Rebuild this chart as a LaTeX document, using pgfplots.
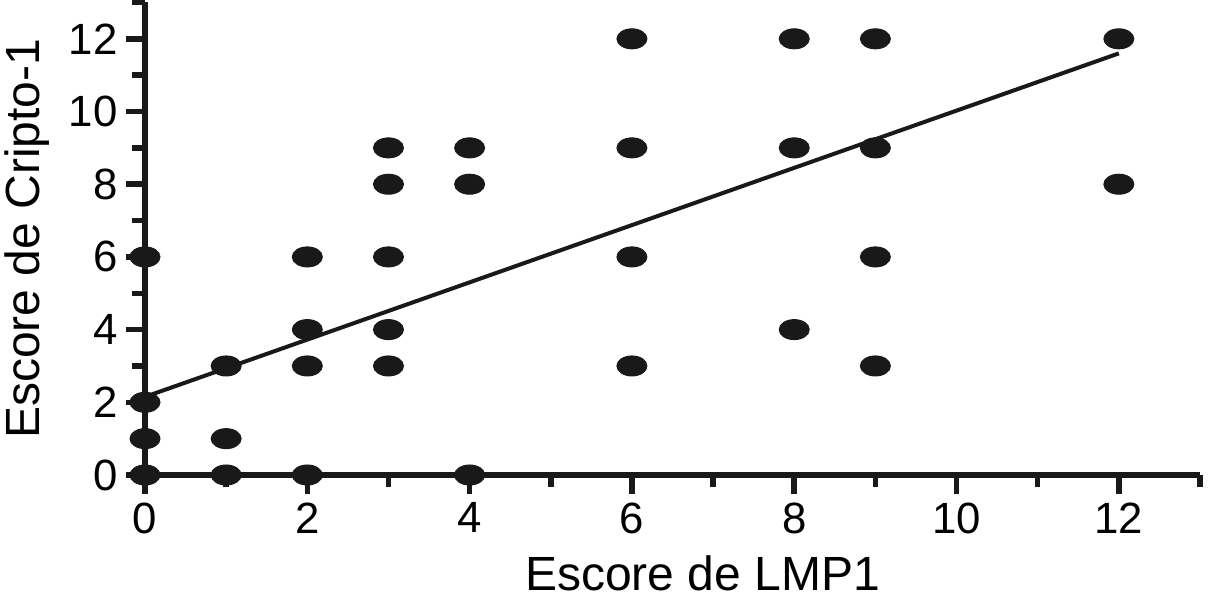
\documentclass[border=0pt]{standalone}
\usepackage{fontspec}
\setmainfont{Liberation Sans}
\usepackage{pgfplots}
\pgfplotsset{compat=1.18}
\begin{document}
\begin{tikzpicture}
\begin{axis}[
  scale only axis,
  width=422pt, height=189pt,
  xmin=0, xmax=13, ymin=0, ymax=13,
  axis lines=left,
  axis line style={-, line width=2.2pt, black!90},
  xtick={0,2,...,12}, ytick={0,2,...,12},
  minor xtick={1,3,...,13}, minor ytick={1,3,...,13},
  tick align=outside,
  major tick length=7.5pt, minor tick length=5pt,
  every tick/.style={line width=2.2pt, black!90},
  tick label style={font=\fontsize{17.5}{20}\selectfont},
  /pgf/number format/assume math mode=true,
  xlabel={Escore de LMP1}, ylabel={Escore de Cripto-1},
  label style={font=\fontsize{19.2}{23}\selectfont},
  xlabel style={yshift=-2pt, xshift=12pt},
  ylabel style={yshift=1pt},
  clip=false,
]
\addplot[only marks, mark=*, mark size=4pt, mark options={xscale=1.5, fill=black!90, draw=black!90}] coordinates {
(0,0) (0,1) (0,2) (0,6)
(1,0) (1,1) (1,3)
(2,0) (2,3) (2,4) (2,6)
(3,3) (3,4) (3,6) (3,8) (3,9)
(4,0) (4,8) (4,9)
(6,3) (6,6) (6,9) (6,12)
(8,4) (8,9) (8,12)
(9,3) (9,6) (9,9) (9,12)
(12,8) (12,12)
};
\addplot[line width=1.6pt, black!90] coordinates {(0,2.15) (12,11.6)};
\end{axis}
\pgfresetboundingbox
\path (-58pt,-49.6pt) rectangle (426.4pt,190pt);
\end{tikzpicture}
\end{document}
